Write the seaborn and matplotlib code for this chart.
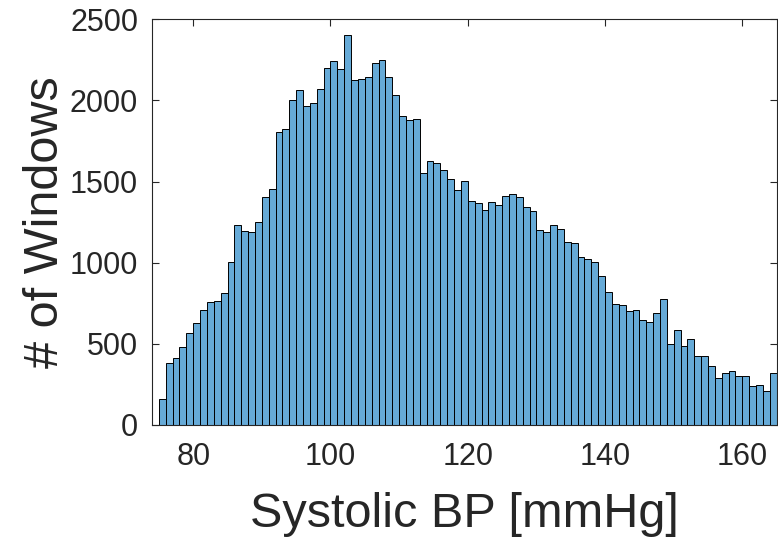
import numpy as np
import pandas as pd
import matplotlib
matplotlib.use("Agg")
import matplotlib.pyplot as plt
import seaborn as sns

# Bin left edges (mmHg), width 1
bin_start = list(range(75, 165))
counts = [
    160, 382, 411, 479, 565, 631, 711, 760, 766, 811,
    1002, 1230, 1193, 1189, 1253, 1403, 1452, 1806, 1826, 2005,
    2062, 1966, 1986, 2071, 2202, 2245, 2196, 2403, 2126, 2134,
    2147, 2229, 2249, 2144, 2036, 1906, 1880, 1884, 1553, 1629,
    1612, 1569, 1514, 1448, 1506, 1382, 1370, 1325, 1374, 1356,
    1411, 1423, 1407, 1343, 1321, 1200, 1189, 1234, 1208, 1128,
    1122, 1037, 1025, 1004, 918, 820, 744, 739, 703, 709,
    647, 635, 688, 774, 499, 585, 487, 528, 425, 425,
    366, 290, 322, 333, 302, 302, 240, 249, 210, 322,
]
x_ticks = [80, 100, 120, 140, 160]
y_ticks = [0, 500, 1000, 1500, 2000, 2500]

df = pd.DataFrame({"bp": np.array(bin_start, dtype=float) + 0.5,
                   "n": np.array(counts, dtype=float)})

sns.set_theme(style="ticks")
plt.rcParams["font.family"] = ["Liberation Sans", "DejaVu Sans"]

fig = plt.figure(figsize=(7.78, 5.42), dpi=100)
ax = fig.add_axes([0.1954, 0.2159, 0.8029, 0.7485])

sns.histplot(data=df, x="bp", weights="n", binwidth=1, binrange=(75, 165),
             color=(0.4, 0.668, 0.845), alpha=1.0, edgecolor="black",
             linewidth=0.7, ax=ax)

ax.set_xlim(74, 165)
ax.set_ylim(0, 2500)
ax.set_xticks(x_ticks)
ax.set_yticks(y_ticks)
dark = (0.15, 0.15, 0.15)
ax.tick_params(direction="in", length=5, width=0.8, top=True, right=True,
               labelsize=22, colors=dark)
ax.tick_params(axis="x", pad=12)
ax.tick_params(axis="y", pad=10)
for s in ax.spines.values():
    s.set_visible(True)
    s.set_color(dark)
    s.set_linewidth(0.8)
ax.set_xlabel("Systolic BP [mmHg]", fontsize=35, color=dark, labelpad=15)
ax.set_ylabel("# of Windows", fontsize=35, color=dark, labelpad=1)

fig.savefig("out.png", dpi=100)
